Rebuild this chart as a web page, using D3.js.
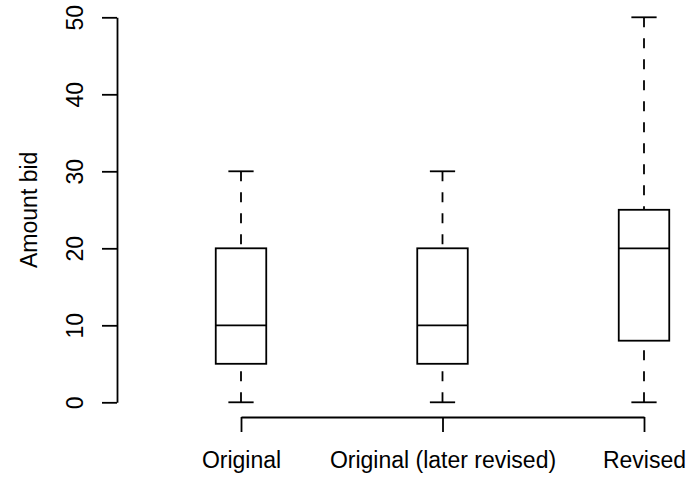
<!DOCTYPE html>
<html>
<head>
<meta charset="utf-8">
<script src="https://cdn.jsdelivr.net/npm/d3@7"></script>
<style>
  html, body { margin: 0; padding: 0; background: #fff; }
  svg { display: block; }
  text { font-family: "Liberation Sans", Arial, Helvetica, sans-serif; fill: #000; }
</style>
</head>
<body>
<svg id="root"></svg>
<script>
// box stats
const groups = ["Original", "Original (later revised)", "Revised"];
const mins = [0, 0, 0];
const q1s = [5, 5, 8];
const medians = [10, 10, 20];
const q3s = [20, 20, 25];
const maxs = [30, 30, 50];
const yTicks = [0, 10, 20, 30, 40, 50];

const draw = () => {
  const width = 689,
    height = 479;
  const fontSize = 23;
  const lw = 1.8;
  const boxW = 50.5;

  const svg = d3.select("svg#root").attr("width", width).attr("height", height);
  svg.append("rect").attr("width", width).attr("height", height).attr("fill", "#fff");

  const x = d3.scalePoint().domain(groups).range([241, 644]);
  const y = d3.scaleLinear().domain([0, 50]).range([402.3, 17.3]);

  const boxes = groups.map((g, i) => ({
    name: g,
    min: mins[i],
    q1: q1s[i],
    med: medians[i],
    q3: q3s[i],
    max: maxs[i],
  }));

  // y axis
  const yAxis = svg
    .append("g")
    .attr("transform", "translate(117,0)")
    .call(d3.axisLeft(y).tickValues(yTicks).tickSize(15).tickSizeOuter(0).tickFormat(d3.format("d")));
  yAxis.selectAll("path, line").attr("stroke", "#000").attr("stroke-width", lw);
  yAxis
    .selectAll("text")
    .attr("x", null)
    .attr("dy", null)
    .attr("text-anchor", "middle")
    .attr("transform", "translate(-34,0) rotate(-90)")
    .attr("font-size", fontSize)
    .attr("fill", "#000");

  // x axis
  const xAxis = svg
    .append("g")
    .attr("transform", "translate(0,417)")
    .call(d3.axisBottom(x).tickSize(15).tickSizeOuter(0));
  xAxis.selectAll("path, line").attr("stroke", "#000").attr("stroke-width", lw);
  xAxis
    .selectAll("text")
    .attr("y", 51)
    .attr("dy", null)
    .attr("font-size", fontSize)
    .attr("fill", "#000");
  svg.selectAll(".domain").attr("fill", "none");

  // y title
  svg
    .append("text")
    .attr("transform", `translate(37,${(y(0) + y(50)) / 2}) rotate(-90)`)
    .attr("text-anchor", "middle")
    .attr("font-size", fontSize)
    .text("Amount bid");

  const cell = svg
    .selectAll("g.box")
    .data(boxes)
    .join("g")
    .attr("class", "box")
    .attr("transform", (d) => `translate(${x(d.name)},0)`)
    .attr("stroke", "#000")
    .attr("stroke-width", lw)
    .attr("fill", "none");

  // whiskers, dashed from the extreme toward the box
  cell
    .append("line")
    .attr("y1", (d) => y(d.max))
    .attr("y2", (d) => y(d.q3))
    .attr("stroke-dasharray", "10,11");
  cell
    .append("line")
    .attr("y1", (d) => y(d.min))
    .attr("y2", (d) => y(d.q1))
    .attr("stroke-dasharray", "10,11");

  // caps
  cell
    .append("line")
    .attr("x1", -boxW / 4)
    .attr("x2", boxW / 4)
    .attr("y1", (d) => y(d.max))
    .attr("y2", (d) => y(d.max));
  cell
    .append("line")
    .attr("x1", -boxW / 4)
    .attr("x2", boxW / 4)
    .attr("y1", (d) => y(d.min))
    .attr("y2", (d) => y(d.min));

  // box
  cell
    .append("rect")
    .attr("x", -boxW / 2)
    .attr("width", boxW)
    .attr("y", (d) => y(d.q3))
    .attr("height", (d) => y(d.q1) - y(d.q3))
    .attr("fill", "#fff");

  // median
  cell
    .append("line")
    .attr("x1", -boxW / 2)
    .attr("x2", boxW / 2)
    .attr("y1", (d) => y(d.med))
    .attr("y2", (d) => y(d.med));

  return svg.node();
};

draw();
</script>
</body>
</html>
